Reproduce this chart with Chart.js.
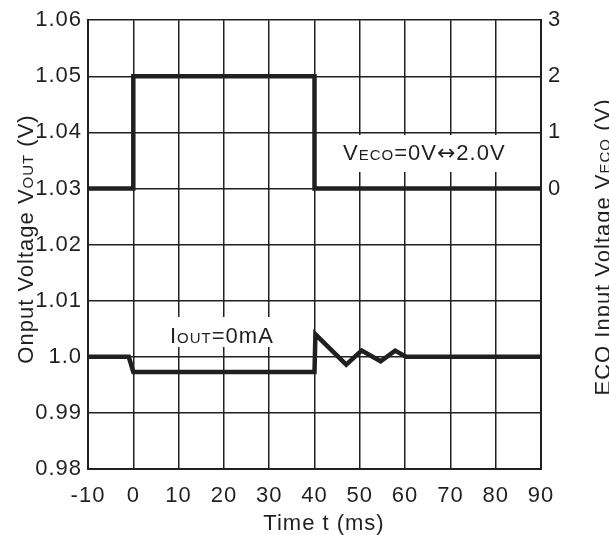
<!DOCTYPE html>
<html><head><meta charset="utf-8">
<script src="https://cdn.jsdelivr.net/npm/chart.js@4/dist/chart.umd.min.js"></script>
<style>html,body{margin:0;padding:0;background:#fff}canvas{display:block}</style>
</head><body>
<canvas id="c" width="609" height="535"></canvas>
<script>
// ---- data ----
const timeVout = [-10, -1, 0, 40, 40.2, 47, 50.4, 54.6, 57.8, 60.2, 90];
const vout     = [1.0, 1.0, 0.9973, 0.9973, 1.0040, 0.9986, 1.0011, 0.9992, 1.0011, 1.0, 1.0];
const timeVeco = [-10, 0, 0, 40, 40, 90];
const veco     = [0, 0, 2, 2, 0, 0];
const xTicks = [-10, 0, 10, 20, 30, 40, 50, 60, 70, 80, 90];
const xTickLabels = ['-10', '0', '10', '20', '30', '40', '50', '60', '70', '80', '90'];
const yTicks = [0.98, 0.99, 1.0, 1.01, 1.02, 1.03, 1.04, 1.05, 1.06];
const yTickLabels = ['0.98', '0.99', '1.0', '1.01', '1.02', '1.03', '1.04', '1.05', '1.06'];
const y2Ticks = [0, 1, 2, 3];
const y2TickLabels = ['0', '1', '2', '3'];

const INK = '#231f20';
const FAM = '"Liberation Sans", Arial, Helvetica, sans-serif';
const ARROWFAM = '"DejaVu Sans", sans-serif';
const BIG = 22, SMALL = 15;

function setSpacing(ctx){ try { ctx.letterSpacing = '1px'; } catch(e){} }

function fontOf(p){ return p.s + 'px ' + (p.f || FAM); }
function richWidth(ctx, parts){
  let w = 0;
  for (const p of parts){ ctx.font = fontOf(p); w += ctx.measureText(p.t).width; }
  return w;
}
function drawRich(ctx, parts, x, y, align){
  const w = richWidth(ctx, parts);
  let cx = align === 'center' ? x - w/2 : x;
  ctx.textAlign = 'left';
  ctx.textBaseline = 'alphabetic';
  for (const p of parts){
    ctx.font = fontOf(p);
    ctx.fillText(p.t, cx, y + (p.dy || 0));
    cx += ctx.measureText(p.t).width;
  }
}

const textPlugin = {
  id: 'texts',
  beforeUpdate(chart){ setSpacing(chart.ctx); },
  beforeDraw(chart){ setSpacing(chart.ctx); },
  beforeDatasetsDraw(chart){
    const ctx = chart.ctx;
    ctx.save();
    ctx.fillStyle = '#ffffff';
    ctx.fillRect(338, 135, 176, 37);
    ctx.fillRect(164, 317, 112, 30);
    ctx.restore();
  },
  afterDatasetsDraw(chart){
    const ctx = chart.ctx;
    ctx.save();
    setSpacing(ctx);
    ctx.fillStyle = INK;
    drawRich(ctx, [{t:'V', s:BIG}, {t:'ECO', s:SMALL}, {t:'=0V', s:BIG},
                   {t:'\u2194', s:BIG, f:ARROWFAM}, {t:'2.0V', s:BIG}], 343, 160, 'left');
    drawRich(ctx, [{t:'I', s:BIG}, {t:'OUT', s:SMALL}, {t:'=0mA', s:BIG}], 170, 343, 'left');
    ctx.restore();
  },
  afterDraw(chart){
    const ctx = chart.ctx;
    ctx.save();
    setSpacing(ctx);
    ctx.fillStyle = INK;
    drawRich(ctx, [{t:'Time t (ms)', s:BIG}], 324, 529.5, 'center');
    ctx.save();
    ctx.translate(33, 239);
    ctx.rotate(-Math.PI/2);
    drawRich(ctx, [{t:'Onput Voltage V', s:BIG}, {t:'OUT', s:SMALL}, {t:' (V)', s:BIG}], 0, 0, 'center');
    ctx.restore();
    ctx.save();
    ctx.translate(609.5, 247);
    ctx.rotate(-Math.PI/2);
    drawRich(ctx, [{t:'ECO Input Voltage V', s:BIG}, {t:'ECO', s:SMALL}, {t:' (V)', s:BIG}], 0, 0, 'center');
    ctx.restore();
    ctx.restore();
  }
};

const lineStyle = {
  borderColor: INK, borderWidth: 4.5, pointRadius: 0, tension: 0, fill: false,
  borderJoinStyle: 'miter', borderCapStyle: 'butt'
};

new Chart(document.getElementById('c'), {
  type: 'line',
  data: {
    datasets: [
      Object.assign({ label: 'VOUT', yAxisID: 'y', data: timeVout.map((t, i) => ({x: t, y: vout[i]})) }, lineStyle),
      Object.assign({ label: 'VECO', yAxisID: 'y2', data: timeVeco.map((t, i) => ({x: t, y: veco[i]})) }, lineStyle)
    ]
  },
  options: {
    responsive: false,
    animation: false,
    devicePixelRatio: 1,
    layout: { padding: { top: 19, left: 0, right: 0, bottom: 0 } },
    plugins: { legend: { display: false }, tooltip: { enabled: false } },
    scales: {
      x: {
        type: 'linear', min: -10, max: 90,
        afterBuildTicks: s => { s.ticks = xTicks.map(v => ({value: v})); },
        afterFit: s => { s.height = 66; },
        grid: { color: INK, lineWidth: 1.5, drawTicks: false },
        border: { display: true, color: INK, width: 2 },
        ticks: { color: INK, font: { size: BIG, family: FAM }, padding: 14, maxRotation: 0, autoSkip: false,
                 callback: (v, i) => xTickLabels[i] }
      },
      y: {
        type: 'linear', position: 'left', min: 0.98, max: 1.06,
        afterBuildTicks: s => { s.ticks = yTicks.map(v => ({value: v})); },
        afterFit: s => { s.width = 88; },
        grid: { color: INK, lineWidth: 1.5, drawTicks: false },
        border: { display: true, color: INK, width: 2 },
        ticks: { color: INK, font: { size: BIG, family: FAM }, padding: 6,
                 callback: (v, i) => yTickLabels[i] }
      },
      y2: {
        type: 'linear', position: 'right', min: -5, max: 3,
        afterBuildTicks: s => { s.ticks = y2Ticks.map(v => ({value: v})); },
        afterFit: s => { s.width = 68; },
        grid: { display: false, drawTicks: false },
        border: { display: true, color: INK, width: 2 },
        ticks: { color: INK, font: { size: BIG, family: FAM }, padding: 7,
                 callback: (v, i) => y2TickLabels[i] }
      }
    }
  },
  plugins: [textPlugin]
});
</script>
</body></html>
